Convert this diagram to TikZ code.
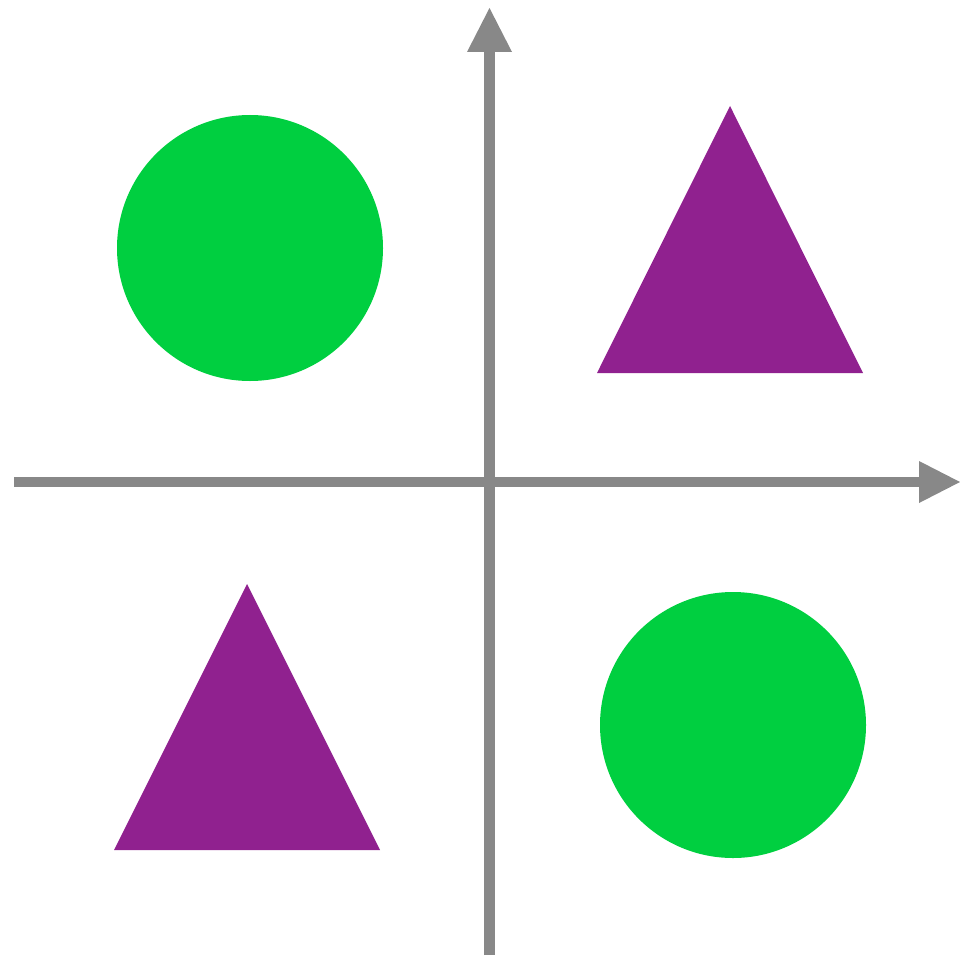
\documentclass[tikz,border=0pt]{standalone}
\definecolor{axisgray}{HTML}{888888}
\definecolor{shapegreen}{HTML}{00CF40}
\definecolor{shapepurple}{HTML}{90218F}
\tikzset{
  axisline/.style={draw=axisgray, line width=10.5pt},
  axishead/.style={fill=axisgray},
  greenshape/.style={fill=shapegreen},
  purpleshape/.style={fill=shapepurple},
}
\begin{document}
\begin{tikzpicture}[x=1pt,y=-1pt]
\useasboundingbox (0,0) rectangle (960,955);
% axes
\coordinate (vbot) at (489.5,955);
\coordinate (vtop) at (489.5,52);
\coordinate (hleft) at (14,482);
\coordinate (hright) at (919,482);
\draw[axisline] (vbot) -- (vtop);
\draw[axisline] (hleft) -- (hright);
\fill[axishead] (467,52) -- (489.5,8) -- (512,52) -- cycle;
\fill[axishead] (919,461) -- (960,482) -- (919,503) -- cycle;
% shapes
\fill[greenshape] (250,248) circle (133);
\fill[greenshape] (733,725) circle (133);
\fill[purpleshape] (730,106) -- (863,373) -- (597,373) -- cycle;
\fill[purpleshape] (247,584) -- (380,850) -- (114,850) -- cycle;
\end{tikzpicture}
\end{document}
